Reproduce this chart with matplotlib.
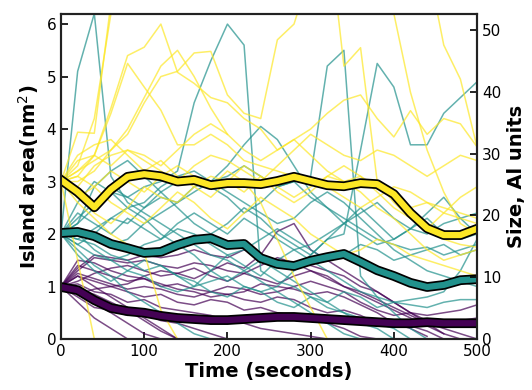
import numpy as np
import matplotlib
matplotlib.use("Agg")
import matplotlib.pyplot as plt
import matplotlib.patheffects as pe

nan = np.nan
time_s = np.arange(0, 501, 20)

# mean island area per group (nm^2)
mean_small = [0.99, 0.93, 0.74, 0.59, 0.53, 0.50, 0.44, 0.40, 0.38, 0.36, 0.36, 0.38, 0.40,
              0.42, 0.42, 0.40, 0.38, 0.36, 0.34, 0.32, 0.30, 0.30, 0.32, 0.30, 0.30, 0.30]
mean_mid = [2.02, 2.04, 1.96, 1.81, 1.73, 1.64, 1.66, 1.79, 1.89, 1.92, 1.79, 1.81, 1.54,
            1.43, 1.39, 1.49, 1.56, 1.62, 1.47, 1.31, 1.20, 1.07, 0.99, 1.03, 1.12, 1.14]
mean_big = [3.03, 2.80, 2.51, 2.85, 3.09, 3.14, 3.10, 3.00, 3.03, 2.93, 2.97, 2.97, 2.95,
            3.01, 3.09, 3.01, 2.93, 2.91, 2.97, 2.95, 2.76, 2.40, 2.11, 1.98, 1.98, 2.10]

# individual islands, small group (start at 1 nm^2)
runs_small = [
    [1, 1.3, 1.55, 1.5, 1.45, 1.5, 1.4, 1.35, 1.45, 1.4, 1.3, 1.25, 1.4, 1.55, 1.45, 1.3, 1.2, 1.0, 0.85, 0.7, 0.55, 0.4, 0.25, 0.1, nan, nan],
    [1, 1.2, 1.0, 0.8, 0.6, 0.4, 0.2, 0.0] + [nan] * 18,
    [1, 0.9, 0.7, 0.5, 0.3, 0.1, 0.0] + [nan] * 19,
    [1, 1.4, 1.3, 1.2, 1.1, 1.15, 1.05, 0.95, 0.9, 0.8, 0.85, 0.75, 0.7, 0.8, 0.75, 0.6, 0.5, 0.55, 0.45, 0.3, 0.35, 0.25, 0.15, 0.0, nan, nan],
    [1, 1.1, 1.25, 1.35, 1.4, 1.3, 1.2, 1.25, 1.15, 1.3, 1.45, 1.35, 1.6, 2.05, 2.2, 1.7, 1.5, 1.3, 1.1, 0.9, 0.7, 0.5, 0.3, 0.1, 0.0, nan],
    [1, 0.8, 0.6, 0.55, 0.45, 0.5, 0.35, 0.3, 0.2, 0.1, 0.0] + [nan] * 15,
    [1, 1.5, 1.45, 1.3, 1.2, 1.15, 1.0, 1.05, 0.95, 0.9, 1.0, 0.95, 0.85, 0.9, 1.0, 1.1, 1.0, 0.9, 0.7, 0.55, 0.45, 0.5, 0.45, 0.5, 0.55, 0.65],
    [1, 0.95, 0.85, 0.7, 0.55, 0.35, 0.15, 0.0] + [nan] * 18,
    [1, 1.2, 1.1, 1.0, 1.05, 1.2, 1.3, 1.25, 1.35, 1.2, 1.1, 1.25, 1.15, 1.05, 1.2, 1.3, 1.15, 1.0, 0.9, 0.75, 0.6, 0.45, 0.3, 0.2, 0.1, 0.0],
    [1, 1.05, 0.9, 0.85, 0.7, 0.75, 0.6, 0.55, 0.5, 0.45, 0.35, 0.3, 0.2, 0.15, 0.1, 0.05, 0.0] + [nan] * 9,
    [1, 1.35, 1.6, 1.55, 1.5, 1.6, 1.55, 1.6, 1.7, 1.6, 1.55, 1.7, 1.6, 1.5, 1.45, 1.4, 1.3, 1.2, 1.0, 0.9, 0.7, 0.5, 0.35, 0.3, 0.35, 0.4],
    [1, 0.85, 0.95, 1.0, 0.9, 0.8, 0.85, 0.7, 0.65, 0.75, 0.7, 0.55, 0.6, 0.5, 0.45, 0.4, 0.3, 0.2, 0.05, 0.0] + [nan] * 6,
    [1, 1.25, 1.15, 1.05, 0.95, 1.0, 0.95, 0.85, 0.8, 0.9, 0.85, 0.9, 1.05, 1.0, 0.95, 0.85, 0.9, 0.8, 0.65, 0.5, 0.3, 0.2, 0.05, nan, nan, nan],
    [1, 0.7, 0.4, 0.2, 0.0] + [nan] * 21,
]

# medium group (start at 2 nm^2)
runs_mid = [
    [2, 5.1, 6.2, 3.1, 2.6, 2.4, 2.2, 2.0, 1.8, 1.6, 1.5, 1.3, 1.1, 0.9, 0.7, 0.5, 0.3, 0.1, 0.0] + [nan] * 7,
    [2, 2.2, 2.5, 2.8, 2.7, 2.9, 3.0, 3.2, 4.5, 5.3, 6.0, 5.6, 1.3, 1.1, 1.0, 0.8, 0.6, 0.5, 0.4, 0.3, 0.2, 0.0, nan, nan, nan, nan],
    [2, 1.9, 2.1, 2.3, 2.2, 2.5, 2.7, 2.6, 2.8, 3.0, 3.1, 3.3, 3.1, 2.9, 3.0, 3.1, 5.2, 5.5, 1.2, 0.8, 0.5, 0.2, 0.0, nan, nan, nan],
    [2, 2.1, 2.0, 1.8, 1.9, 2.2, 2.4, 2.6, 2.9, 3.0, 3.3, 3.7, 4.05, 3.8, 3.3, 2.8, 2.5, 2.3, 2.1, 1.9, 1.8, 1.7, 1.75, 1.6, 1.7, 1.8],
    [2, 1.8, 1.6, 1.5, 1.3, 1.2, 1.0, 0.9, 1.0, 1.1, 1.2, 1.0, 0.9, 1.0, 1.3, 1.6, 1.9, 2.0, 3.6, 5.25, 4.8, 3.7, 3.7, 4.3, 4.6, 4.9],
    [2, 2.3, 2.6, 2.9, 2.7, 2.5, 2.8, 3.0, 3.1, 2.9, 2.7, 2.4, 2.6, 2.9, 3.0, 2.7, 2.5, 2.2, 2.0, 1.8, 1.9, 2.1, 2.3, 2.0, 1.9, 2.0],
    [2, 1.7, 1.4, 1.2, 0.9, 0.7, 0.5, 0.3, 0.1, 0.0] + [nan] * 16,
    [2, 2.4, 2.2, 2.0, 2.3, 2.1, 1.9, 2.2, 2.4, 2.2, 2.0, 2.3, 2.1, 1.9, 1.7, 1.8, 2.0, 2.2, 2.4, 2.6, 2.3, 2.1, 2.0, 2.2, 2.3, 2.4],
    [2, 1.9, 1.8, 1.6, 1.5, 1.3, 1.4, 1.2, 1.1, 0.9, 0.8, 1.0, 0.9, 0.7, 0.6, 0.8, 0.7, 0.9, 0.8, 0.6, 0.7, 0.65, 0.6, 0.7, 0.75, 0.75],
    [2, 2.0, 1.7, 1.5, 1.6, 1.8, 1.9, 2.1, 2.0, 1.8, 1.6, 1.7, 1.9, 2.1, 1.9, 1.7, 1.5, 1.6, 1.8, 1.7, 1.5, 1.6, 1.7, 1.8, 1.6, 1.7],
    [2, 2.6, 3.0, 2.8, 2.5, 2.3, 2.0, 1.8, 1.6, 1.3, 1.1, 1.3, 1.5, 1.3, 1.1, 0.9, 0.7, 0.5, 0.3, 0.2, 0.0] + [nan] * 5,
    [2, 1.8, 2.0, 2.3, 2.5, 2.6, 2.9, 3.1, 3.2, 3.0, 2.8, 2.6, 2.4, 2.2, 2.3, 2.6, 2.8, 2.6, 2.3, 2.0, 1.7, 1.5, 1.3, 1.2, 1.1, 1.0],
    [2, 1.6, 1.3, 1.1, 1.3, 1.5, 1.4, 1.2, 1.0, 1.3, 1.6, 1.4, 1.2, 1.5, 1.7, 1.5, 1.3, 1.1, 0.9, 0.8, 0.7, 0.75, 0.8, 0.9, 1.3, 1.9],
    [2, 2.2, 2.9, 3.2, 3.4, 3.1, 2.8, 2.5, 2.2, 2.0, 2.2, 2.5, 2.3, 2.0, 1.8, 1.6, 1.9, 2.2, 2.5, 2.2, 1.9, 2.1, 2.4, 2.7, 2.3, 2.0],
]

# large group (start at 3 nm^2)
runs_big = [
    [3, 2.8, 2.4, 2.2, 2.5, 2.9, 2.7, 2.6, 2.9, 3.1, 3.0, 2.8, 3.1, 2.9, 2.7, 2.9, 3.1, 3.0, 2.8, 2.5, 2.3, 2.0, 1.7, 1.5, 1.6, 1.7],
    [3, 3.94, 3.92, 6.4, 7.5, 8, 8, 8, 8, 8, 8, 8, 8, 8, 8, 8, 8, 8, 8, 7.5, 6.2, 4.7, 3.6, 2.8, 2.2, 2.0],
    [3, 3.3, 4.2, 6.2, 7.5, 8, 8, 8, 8, 8, 8, 8, 8, 8, 8, 8, 8, 8, 8, 8, 8, 8, 7.2, 5.6, 4.95, 3.66],
    [3, 3.2, 3.5, 4.3, 5.25, 4.8, 4.36, 3.7, 3.7, 3.9, 3.7, 3.4, 3.3, 3.2, 3.1, 3.0, 2.9, 2.7, 2.5, 2.7, 2.9, 2.8, 2.6, 2.5, 2.4, 2.3],
    [3, 3.1, 3.5, 4.4, 5.4, 5.56, 6.0, 5.08, 4.87, 4.6, 4.5, 4.2, 4.0, 3.6, 3.8, 3.5, 3.2, 3.0, 3.1, 2.9, 2.7, 2.5, 2.6, 2.4, 2.3, 2.2],
    [3, 3.2, 3.4, 3.6, 3.9, 4.5, 5.0, 5.1, 5.45, 5.48, 4.65, 4.3, 4.2, 5.7, 6.0, 7.0, 8, 5.2, 5.55, 3.0, 2.6, 2.3, 2.1, 1.9, 1.8, 1.75],
    [3, 1.5, 0.0] + [nan] * 23,
    [3, 2.6, 2.3, 2.0, 1.8, 1.65, 0.55, 0.0] + [nan] * 18,
    [3, 3.4, 3.5, 3.3, 3.6, 3.4, 3.2, 3.0, 3.3, 3.5, 3.4, 3.2, 3.0, 3.3, 3.6, 3.9, 3.7, 3.5, 3.4, 3.6, 3.5, 3.3, 3.1, 3.3, 3.5, 3.4],
    [3, 2.7, 2.9, 2.6, 2.4, 2.2, 2.5, 2.8, 2.6, 2.3, 2.1, 2.4, 2.7, 2.5, 2.3, 2.0, 1.8, 1.6, 1.7, 1.9, 1.8, 1.6, 1.5, 1.4, 1.3, 1.2],
    [3, 3.1, 2.9, 3.2, 3.0, 2.8, 3.1, 3.3, 3.1, 2.9, 3.2, 3.0, 2.6, 1.9, 1.2, 0.6, 0.0] + [nan] * 9,
    [3, 3.5, 3.7, 3.8, 3.5, 3.2, 3.4, 3.1, 2.9, 2.7, 3.0, 3.3, 3.1, 2.8, 2.6, 2.8, 3.1, 3.3, 3.1, 2.8, 2.5, 2.3, 2.1, 2.4, 2.7, 2.9],
    [3, 2.9, 3.3, 3.5, 3.6, 3.5, 3.3, 3.6, 3.9, 4.1, 3.9, 3.6, 3.4, 3.6, 3.8, 4.0, 4.3, 4.55, 4.65, 4.2, 3.85, 4.35, 3.9, 4.2, 4.1, 3.66],
    [3, 3.0, 3.2, 3.6, 4.0, 4.6, 5.2, 5.5, 5.0, 4.4, 3.9] + [nan] * 15,
]

cmap = plt.get_cmap("viridis")
groups = [(runs_small, mean_small, cmap(0.0)),
          (runs_mid, mean_mid, cmap(0.5)),
          (runs_big, mean_big, cmap(1.0))]

fig = plt.figure(figsize=(5.32, 3.90), dpi=100)
ax = fig.add_axes([0.1147, 0.1308, 0.782, 0.833])

for runs, mean, color in groups:
    for r in runs:
        ax.plot(time_s, r, color=color, lw=1.1, alpha=0.7, zorder=2)

for runs, mean, color in groups:
    ax.plot(time_s, mean, color=color, lw=4.5, zorder=5,
            path_effects=[pe.Stroke(linewidth=7, foreground="black"), pe.Normal()])

ax.set_xlim(0, 500)
ax.set_ylim(0, 6.19)
ax.set_xticks([0, 100, 200, 300, 400, 500])
ax.set_yticks([0, 1, 2, 3, 4, 5, 6])
ax.tick_params(direction="in", labelsize=11, length=5, width=1.2)
ax.set_xlabel("Time (seconds)", fontsize=14, fontweight="bold", labelpad=2)
ax.set_ylabel("Island area(nm$^2$)", fontsize=14, fontweight="bold", labelpad=4)

ax2 = ax.twinx()
ax2.set_ylim(0, 52.6)
ax2.set_yticks([0, 10, 20, 30, 40, 50])
ax2.tick_params(direction="in", labelsize=11, length=5, width=1.2)
ax2.set_ylabel("Size, Al units", fontsize=14, fontweight="bold", labelpad=4)

for a in (ax, ax2):
    for s in a.spines.values():
        s.set_linewidth(1.5)
        s.set_color("#222222")

fig.savefig("out.png", dpi=100)
